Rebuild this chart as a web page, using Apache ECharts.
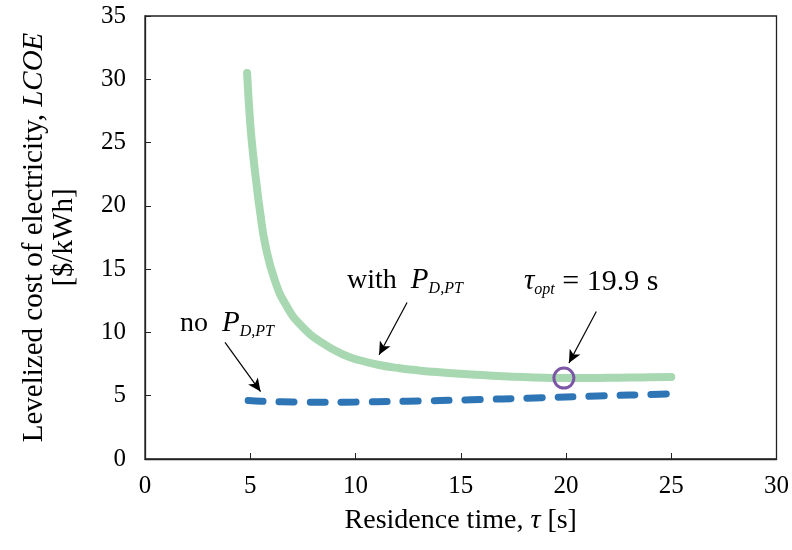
<!DOCTYPE html>
<html>
<head>
<meta charset="utf-8">
<script src="https://cdn.jsdelivr.net/npm/echarts@6/dist/echarts.min.js"></script>
<style>
html, body { margin: 0; padding: 0; background: #fff; }
#main { width: 792px; height: 550px; }
</style>
</head>
<body>
<div id="main"></div>
<script>
// residence time (s) and LCOE ($/kWh)
var tauWith = [4.85, 5.0, 5.14, 5.3, 5.46, 5.73, 6.17, 6.72, 7.44, 8.39, 9.49, 10.2, 11.07, 12.1, 13, 14, 15, 16, 17, 18, 19, 19.9, 21, 22, 23, 24, 25];
var lcoeWith = [30.5, 26.5, 24.0, 21.7, 19.6, 16.8, 14.1, 12.1, 10.5, 9.2, 8.2, 7.8, 7.45, 7.17, 7.0, 6.85, 6.73, 6.63, 6.54, 6.47, 6.42, 6.39, 6.4, 6.41, 6.43, 6.45, 6.47];

var tauNo = [4.9, 5.5, 6, 7, 8, 9, 10, 11, 12, 13, 14, 15, 16, 17, 18, 19, 20, 21, 22, 23, 24, 25];
var lcoeNo = [4.62, 4.57, 4.54, 4.51, 4.49, 4.49, 4.5, 4.52, 4.55, 4.58, 4.62, 4.66, 4.7, 4.75, 4.8, 4.85, 4.9, 4.95, 5.0, 5.05, 5.1, 5.15];

var xTicks = [0, 30, 5];
var yTicks = [0, 35, 5];

var optPoint = [19.9, 6.39];

// arrows: [from, to] in data units
var arrows = [
    [[12.45, 12.37], [11.12, 8.23]],
    [[21.44, 11.66], [20.14, 7.58]],
    [[3.8, 9.21], [5.49, 5.33]]
];
// annotation anchors (left edge, middle of text)
var notes = [
    {pos: [9.6, 14.1], kind: 'with'},
    {pos: [18.0, 14.0], kind: 'opt'},
    {pos: [1.66, 10.7], kind: 'no'}
];

function zip(a, b) {
    var r = [];
    for (var i = 0; i < a.length; i++) r.push([a[i], b[i]]);
    return r;
}

var myChart = echarts.init(document.getElementById('main'));
var serif = 'Liberation Serif';

var rich = {
    n: {fontFamily: serif, fontSize: 28, color: '#000', lineHeight: 32},
    m: {fontFamily: serif, fontSize: 30, color: '#000', lineHeight: 32},
    i: {fontFamily: serif, fontSize: 29, fontStyle: 'italic', color: '#000', lineHeight: 32},
    s: {fontFamily: serif, fontSize: 16, fontStyle: 'italic', color: '#000', lineHeight: 14, verticalAlign: 'bottom'}
};
var noteText = {
    'with': '{n|with  }{i|P}{s|D,PT}',
    'opt': '{i|τ}{s|opt}{m| = 19.9 s}',
    'no': '{n|no  }{i|P}{s|D,PT}'
};

var option = {
    animation: false,
    grid: {
        left: 145, right: 15, top: 16, bottom: 91,
        show: true, borderColor: '#222', borderWidth: 1.3
    },
    xAxis: {
        type: 'value', min: xTicks[0], max: xTicks[1], interval: xTicks[2],
        name: '{a|Residence time, }{b|τ}{a| [s]}',
        nameLocation: 'middle', nameGap: 48,
        nameTextStyle: {
            rich: {
                a: {fontFamily: serif, fontSize: 28, color: '#000'},
                b: {fontFamily: serif, fontSize: 28, fontStyle: 'italic', color: '#000'}
            }
        },
        axisLine: {lineStyle: {color: '#222', width: 1.3}},
        axisTick: {inside: true, length: 6, lineStyle: {color: '#222'}},
        axisLabel: {fontFamily: serif, fontSize: 25, color: '#000', margin: 15},
        splitLine: {show: false}
    },
    yAxis: {
        type: 'value', min: yTicks[0], max: yTicks[1], interval: yTicks[2],
        name: '{a|Levelized cost of electricity, }{b|LCOE}\n{a|[$/kWh]}',
        nameLocation: 'middle', nameGap: 66, nameRotate: 90,
        nameTextStyle: {
            align: 'center',
            rich: {
                a: {fontFamily: serif, fontSize: 29, color: '#000', lineHeight: 30, align: 'center'},
                b: {fontFamily: serif, fontSize: 29, fontStyle: 'italic', color: '#000', lineHeight: 30}
            }
        },
        axisLine: {lineStyle: {color: '#222', width: 1.3}},
        axisTick: {inside: true, length: 6, lineStyle: {color: '#222'}},
        axisLabel: {fontFamily: serif, fontSize: 25, color: '#000', margin: 19},
        splitLine: {show: false}
    },
    series: [
        {
            name: 'no PD,PT',
            type: 'line',
            smooth: 0.3,
            symbol: 'none',
            data: zip(tauNo, lcoeNo),
            lineStyle: {color: '#2e75b6', width: 7, type: [15, 16], cap: 'round'},
            z: 2
        },
        {
            name: 'with PD,PT',
            type: 'line',
            smooth: 0.5,
            symbol: 'none',
            data: zip(tauWith, lcoeWith),
            lineStyle: {color: '#a8d8b1', width: 8, cap: 'round', join: 'round'},
            z: 3,
            markPoint: {
                silent: true,
                data: [{
                    coord: optPoint, symbol: 'circle', symbolSize: 20,
                    itemStyle: {color: 'rgba(0,0,0,0)', borderColor: '#7b57a6', borderWidth: 3},
                    label: {show: false}
                }].concat(notes.map(function (n) {
                    return {
                        coord: n.pos, symbol: 'circle', symbolSize: 0,
                        label: {
                            show: true, position: 'inside', align: 'left', verticalAlign: 'middle',
                            formatter: noteText[n.kind], rich: rich
                        }
                    };
                }))
            },
            markLine: {
                silent: true,
                symbol: ['none', 'arrow'],
                symbolSize: [9, 13],
                label: {show: false},
                lineStyle: {color: '#000', width: 1.2, type: 'solid'},
                data: arrows.map(function (a) {
                    return [{coord: a[0]}, {coord: a[1]}];
                })
            }
        }
    ]
};

myChart.setOption(option);
</script>
</body>
</html>
